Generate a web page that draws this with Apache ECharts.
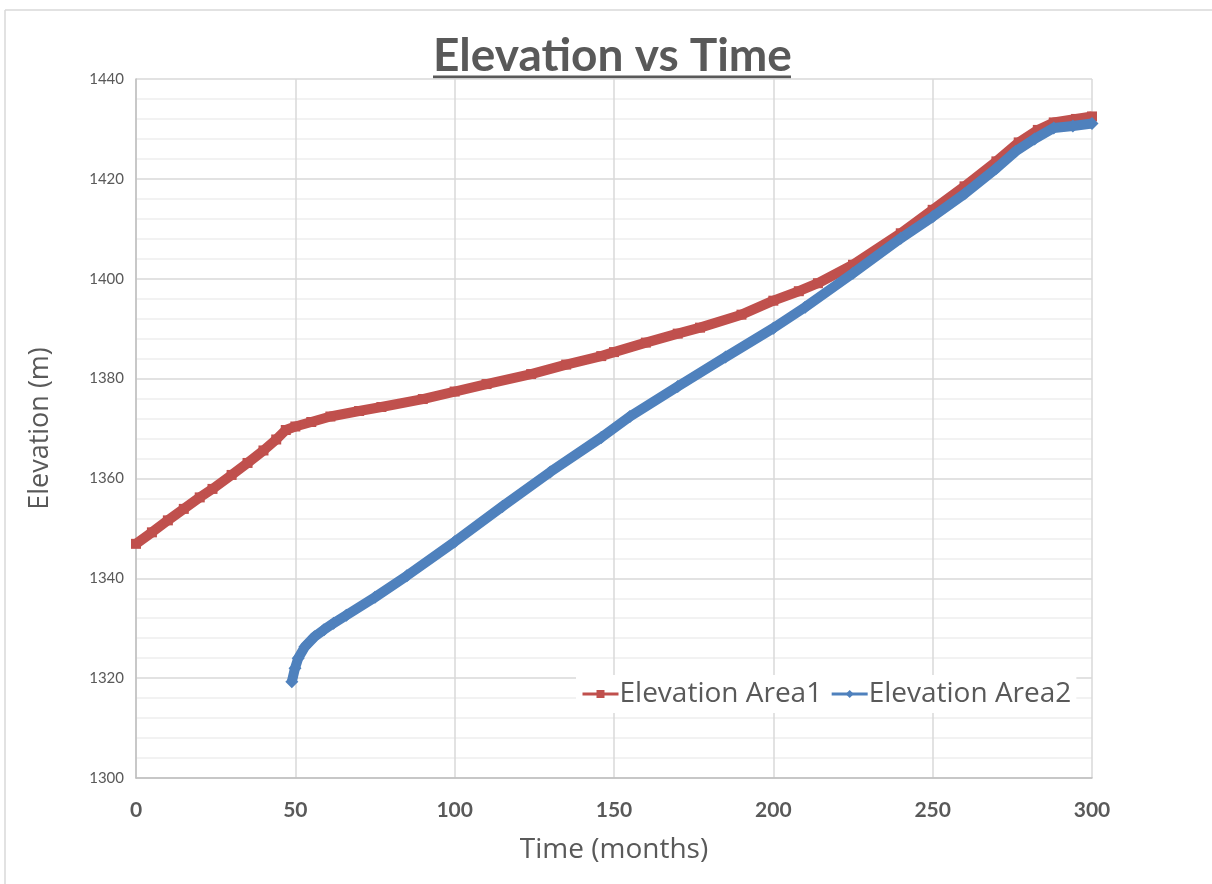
<!DOCTYPE html>
<html>
<head>
<meta charset="utf-8">
<script src="https://cdn.jsdelivr.net/npm/echarts@6/dist/echarts.min.js"></script>
<style>html,body{margin:0;padding:0;background:#fff}#c{width:1212px;height:884px}</style>
</head>
<body>
<div id="c"></div>
<script>
// Data
const area1Months = [0, 5, 10, 15, 20, 24, 30, 35, 40, 44, 47, 50, 55, 61, 70, 77, 90, 100, 110, 124, 135, 146, 150, 160, 170, 177, 190, 200, 208, 214, 225, 240, 250, 260, 270, 277, 283, 288, 295, 300];
const area1Elev   = [1346.9, 1349.2, 1351.6, 1353.9, 1356.2, 1357.9, 1360.7, 1363.1, 1365.6, 1367.8, 1369.7, 1370.4, 1371.3, 1372.4, 1373.5, 1374.3, 1375.9, 1377.4, 1378.9, 1380.9, 1382.8, 1384.5, 1385.3, 1387.2, 1389.0, 1390.2, 1392.8, 1395.6, 1397.5, 1399.1, 1402.8, 1409.1, 1413.8, 1418.5, 1423.5, 1427.3, 1429.8, 1431.3, 1432.0, 1432.5];

const area2Months = [48.9, 49.9, 50.9, 53, 56, 59, 62, 66, 75, 85, 100, 115, 130, 146, 155, 170, 185, 200, 210, 225, 240, 250, 260, 270, 276, 282, 288, 294, 300];
const area2Elev   = [1319.3, 1322.0, 1324.0, 1326.3, 1328.3, 1329.7, 1331.0, 1332.6, 1336.2, 1340.5, 1347.3, 1354.4, 1361.3, 1368.2, 1372.4, 1378.4, 1384.3, 1390.1, 1394.3, 1401.1, 1408.1, 1412.4, 1417.0, 1422.1, 1425.5, 1428.0, 1430.2, 1430.6, 1431.1];

const xTicks = [0, 50, 100, 150, 200, 250, 300];
const yTicks = [1300, 1320, 1340, 1360, 1380, 1400, 1420, 1440];

const seriesNames = ['Elevation Area1', 'Elevation Area2'];
const seriesColors = ['#c0504d', '#4f81bd'];

const zip = (xs, ys) => xs.map((x, i) => [x, ys[i]]);

const chart = echarts.init(document.getElementById('c'), null, {renderer: 'canvas'});
const textColor = '#595959';
const font = 'Lato, "Open Sans", sans-serif';
const wideFont = '"Open Sans", Lato, sans-serif';

chart.setOption({
  backgroundColor: '#ffffff',
  animation: false,
  title: {
    text: 'Elevation vs Time',
    left: 428,
    top: 28,
    textStyle: {fontFamily: font, fontSize: 46, fontWeight: 'bold', color: textColor}
  },
  graphic: [
    {type: 'line', shape: {x1: 433, y1: 77, x2: 791, y2: 77}, style: {stroke: textColor, lineWidth: 3}},
    {type: 'line', shape: {x1: 5, y1: 10, x2: 1212, y2: 10}, style: {stroke: '#d9d9d9', lineWidth: 1.5}},
    {type: 'line', shape: {x1: 5, y1: 10, x2: 5, y2: 884}, style: {stroke: '#d9d9d9', lineWidth: 1.5}}
  ],
  legend: {
    data: seriesNames,
    left: 576,
    top: 675,
    itemWidth: 36,
    itemHeight: 10,
    itemGap: 8,
    textStyle: {fontFamily: wideFont, fontSize: 28, color: textColor, padding: [0, 0, 0, -4]},
    lineStyle: {width: 3},
    backgroundColor: '#ffffff'
  },
  grid: {left: 136, right: 120, top: 79, bottom: 106, containLabel: false},
  xAxis: {
    type: 'value',
    min: 0, max: 300, interval: 50,
    name: 'Time (months)',
    nameLocation: 'middle',
    nameGap: 58,
    nameTextStyle: {fontFamily: wideFont, fontSize: 28, color: textColor},
    axisLine: {show: true, lineStyle: {color: '#bfbfbf', width: 1.5}},
    axisTick: {show: false},
    axisLabel: {fontFamily: font, fontSize: 21, fontWeight: 'bold', color: textColor, margin: 22,
      formatter: v => xTicks.includes(v) ? String(v) : ''},
    splitLine: {show: true, lineStyle: {color: '#d9d9d9', width: 1.5}}
  },
  yAxis: {
    type: 'value',
    min: 1300, max: 1440, interval: 20,
    name: 'Elevation (m)',
    nameLocation: 'middle',
    nameGap: 82,
    nameTextStyle: {fontFamily: wideFont, fontSize: 27, color: textColor},
    axisLine: {show: true, lineStyle: {color: '#bfbfbf', width: 1.5}},
    axisTick: {show: false},
    axisLabel: {fontFamily: font, fontSize: 15, color: textColor, margin: 12,
      formatter: v => yTicks.includes(v) ? String(v) : ''},
    splitLine: {show: true, lineStyle: {color: '#d9d9d9', width: 1.5}},
    minorTick: {show: false, splitNumber: 5},
    minorSplitLine: {show: true, lineStyle: {color: '#eeeeee', width: 1.5}}
  },
  series: [
    {
      name: seriesNames[0],
      type: 'line',
      data: zip(area1Months, area1Elev),
      color: seriesColors[0],
      lineStyle: {width: 10, color: seriesColors[0]},
      symbol: 'rect',
      symbolSize: 10,
      showSymbol: true,
      itemStyle: {color: seriesColors[0]},
      z: 2
    },
    {
      name: seriesNames[1],
      type: 'line',
      data: zip(area2Months, area2Elev),
      color: seriesColors[1],
      lineStyle: {width: 10, color: seriesColors[1]},
      symbol: 'diamond',
      symbolSize: 13,
      showSymbol: true,
      itemStyle: {color: seriesColors[1]},
      z: 3
    }
  ]
});
</script>
</body>
</html>
